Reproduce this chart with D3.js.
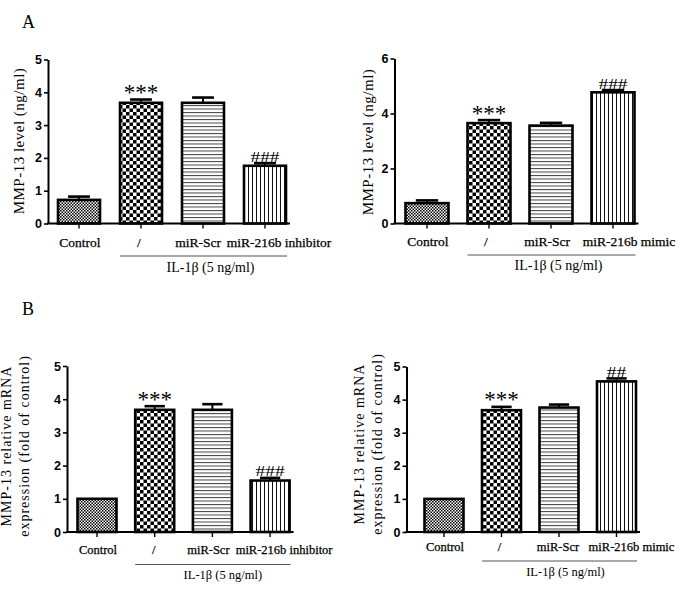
<!DOCTYPE html>
<html><head><meta charset="utf-8">
<script src="https://cdn.jsdelivr.net/npm/d3@7"></script>
<style>body{margin:0;background:#fff}</style>
</head><body>
<svg id="chart" width="685" height="593"></svg>
<script>
// ---------- data ----------
const categoriesInhibitor = ["Control", "/", "miR-Scr", "miR-216b inhibitor"];
const categoriesMimic = ["Control", "/", "miR-Scr", "miR-216b mimic"];
const groupLabel = "IL-1β (5 ng/ml)";

const proteinInhibitorMean = [0.72, 3.68, 3.68, 1.76];
const proteinInhibitorErr  = [0.10, 0.10, 0.16, 0.08];
const proteinInhibitorSig  = ["", "***", "", "###"];

const proteinMimicMean = [0.74, 3.65, 3.56, 4.77];
const proteinMimicErr  = [0.10, 0.11, 0.10, 0.08];
const proteinMimicSig  = ["", "***", "", "###"];

const mrnaInhibitorMean = [1.00, 3.68, 3.68, 1.55];
const mrnaInhibitorErr  = [0.00, 0.11, 0.17, 0.08];
const mrnaInhibitorSig  = ["", "***", "", "###"];

const mrnaMimicMean = [1.00, 3.68, 3.76, 4.55];
const mrnaMimicErr  = [0.00, 0.10, 0.09, 0.09];
const mrnaMimicSig  = ["", "***", "", "##"];

const ticksProteinInhibitor = [0, 1, 2, 3, 4, 5];
const ticksProteinMimic = [0, 2, 4, 6];
const ticksMrna = [0, 1, 2, 3, 4, 5];

const titleProtein = ["MMP-13 level (ng/ml)"];
const titleMrna = ["MMP-13 relative mRNA", "expression (fold of control)"];
const panelLetters = ["A", "B"];

// ---------- drawing ----------
const svg = d3.select("#chart");
const defs = svg.append("defs");
const fills = ["url(#pFine)", "url(#pCoarse)", "url(#pH)", "url(#pV)"];

let p = defs.append("pattern").attr("id", "pFine").attr("patternUnits", "userSpaceOnUse").attr("width", 3).attr("height", 3);
p.append("rect").attr("width", 3).attr("height", 3).attr("fill", "#fff");
p.append("rect").attr("width", 1.5).attr("height", 1.5).attr("fill", "#000");
p.append("rect").attr("x", 1.5).attr("y", 1.5).attr("width", 1.5).attr("height", 1.5).attr("fill", "#000");

p = defs.append("pattern").attr("id", "pCoarse").attr("patternUnits", "userSpaceOnUse").attr("width", 7).attr("height", 7);
p.append("rect").attr("width", 7).attr("height", 7).attr("fill", "#fff");
p.append("rect").attr("width", 3.5).attr("height", 3.5).attr("fill", "#000");
p.append("rect").attr("x", 3.5).attr("y", 3.5).attr("width", 3.5).attr("height", 3.5).attr("fill", "#000");

p = defs.append("pattern").attr("id", "pH").attr("patternUnits", "userSpaceOnUse").attr("width", 10).attr("height", 3.5);
p.append("rect").attr("width", 10).attr("height", 3.5).attr("fill", "#fff");
p.append("rect").attr("y", 0).attr("width", 10).attr("height", 1).attr("fill", "#444");

p = defs.append("pattern").attr("id", "pV").attr("patternUnits", "userSpaceOnUse").attr("width", 4).attr("height", 10);
p.append("rect").attr("width", 4).attr("height", 10).attr("fill", "#fff");
p.append("rect").attr("x", 0).attr("width", 1).attr("height", 10).attr("fill", "#111");

const panels = [
  {cats: categoriesInhibitor, mean: proteinInhibitorMean, err: proteinInhibitorErr, sig: proteinInhibitorSig,
   ticks: ticksProteinInhibitor, title: titleProtein,
   axisX: 48, y0: 223.5, yTop: 59.5, c0: 79, step: 62, bw: 42,
   titleX: 19, titleY: 141, titleSize: 15, titleLs: 0.5,
   catY: 247, catSize: 13.5, shifts: [1, -2, -5, 14],
   bracketY: 256, groupY: 271.5, groupSize: 14, groupDx: 7},
  {cats: categoriesMimic, mean: proteinMimicMean, err: proteinMimicErr, sig: proteinMimicSig,
   ticks: ticksProteinMimic, title: titleProtein,
   axisX: 394.5, y0: 223.5, yTop: 58.5, c0: 427, step: 62, bw: 43,
   titleX: 368, titleY: 142, titleSize: 15, titleLs: 0.5,
   catY: 246, catSize: 13.5, shifts: [1, -3, -4, 16],
   bracketY: 255, groupY: 270, groupSize: 14, groupDx: 7},
  {cats: categoriesInhibitor, mean: mrnaInhibitorMean, err: mrnaInhibitorErr, sig: mrnaInhibitorSig,
   ticks: ticksMrna, title: titleMrna,
   axisX: 67, y0: 532, yTop: 366, c0: 97, step: 57.7, bw: 39,
   titleX: 15, titleY: 446, titleSize: 14, titleLs: 1,
   catY: 554, catSize: 12.5, shifts: [1, -1, -4, 14],
   bracketY: 564.5, groupY: 579, groupSize: 12.5, groupDx: 10},
  {cats: categoriesMimic, mean: mrnaMimicMean, err: mrnaMimicErr, sig: mrnaMimicSig,
   ticks: ticksMrna, title: titleMrna,
   axisX: 406.5, y0: 532, yTop: 366.5, c0: 444, step: 57.5, bw: 39,
   titleX: 368, titleY: 444, titleSize: 14, titleLs: 1,
   catY: 551, catSize: 12.5, shifts: [1, -2, -1, 15],
   bracketY: 561, groupY: 576, groupSize: 12.5, groupDx: 6}
];

panels.forEach(cfg => {
  const g = svg.append("g");
  const n = cfg.cats.length;
  const pi = 1 - cfg.bw / cfg.step;
  const r0 = cfg.c0 - cfg.step / 2;
  const x = d3.scaleBand().domain(cfg.cats).range([r0, r0 + n * cfg.step])
    .paddingInner(pi).paddingOuter(pi / 2);
  const yMax = d3.max(cfg.ticks);
  const y = d3.scaleLinear().domain([0, yMax]).range([cfg.y0, cfg.yTop]);
  const data = cfg.cats.map((c, i) => ({c, v: cfg.mean[i], e: cfg.err[i], s: cfg.sig[i], i}));

  // bars
  g.selectAll("rect.bar").data(data).join("rect")
    .attr("x", d => x(d.c)).attr("y", d => y(d.v))
    .attr("width", x.bandwidth()).attr("height", d => y(0) - y(d.v))
    .attr("fill", d => fills[d.i]).attr("stroke", "#000").attr("stroke-width", 2.6);

  // error bars
  const eb = data.filter(d => d.e > 0);
  g.selectAll("line.stem").data(eb).join("line")
    .attr("x1", d => x(d.c) + x.bandwidth() / 2).attr("x2", d => x(d.c) + x.bandwidth() / 2)
    .attr("y1", d => y(d.v)).attr("y2", d => y(d.v + d.e))
    .attr("stroke", "#000").attr("stroke-width", 2);
  g.selectAll("line.cap").data(eb).join("line")
    .attr("x1", d => x(d.c) + x.bandwidth() * 0.24).attr("x2", d => x(d.c) + x.bandwidth() * 0.76)
    .attr("y1", d => y(d.v + d.e)).attr("y2", d => y(d.v + d.e))
    .attr("stroke", "#000").attr("stroke-width", 2.6);

  // significance marks
  data.filter(d => d.s).forEach(d => {
    const cx = x(d.c) + x.bandwidth() / 2;
    const top = y(d.v + d.e);
    const star = d.s.startsWith("*");
    const t = g.append("text").attr("x", cx).attr("text-anchor", "middle")
      .attr("font-family", "'Liberation Serif', 'Times New Roman', serif")
      .attr("fill", "#000").text(d.s);
    if (star) {
      t.attr("y", top + 0.5).attr("font-size", 23);
    } else {
      t.attr("y", top - 1.5).attr("font-size", 15)
        .attr("textLength", d.s.length * 9.7).attr("lengthAdjust", "spacingAndGlyphs");
    }
  });

  // y axis
  const ya = g.append("g").attr("transform", `translate(${cfg.axisX},0)`)
    .call(d3.axisLeft(y).tickValues(cfg.ticks).tickSize(4).tickSizeOuter(0).tickPadding(2).tickFormat(d3.format("d")));
  ya.select(".domain").attr("stroke", "#000").attr("stroke-width", 2);
  ya.selectAll(".tick line").attr("stroke", "#000").attr("stroke-width", 1.6);
  ya.selectAll(".tick text").attr("font-family", "'Liberation Sans', Arial, sans-serif")
    .attr("font-weight", "bold").attr("font-size", 12.5).attr("fill", "#000");

  // x axis
  const last = cfg.cats[n - 1];
  g.append("line").attr("x1", cfg.axisX - 1).attr("x2", x(last) + x.bandwidth() + 4)
    .attr("y1", cfg.y0).attr("y2", cfg.y0).attr("stroke", "#000").attr("stroke-width", 2);
  g.selectAll("line.xt").data(data).join("line")
    .attr("x1", d => x(d.c) + x.bandwidth() / 2).attr("x2", d => x(d.c) + x.bandwidth() / 2)
    .attr("y1", cfg.y0).attr("y2", cfg.y0 + 5).attr("stroke", "#000").attr("stroke-width", 1.4);

  // category labels
  g.selectAll("text.cat").data(data).join("text")
    .attr("x", d => x(d.c) + x.bandwidth() / 2 + cfg.shifts[d.i]).attr("y", cfg.catY)
    .attr("text-anchor", "middle").attr("font-family", "'Liberation Serif', 'Times New Roman', serif")
    .attr("font-size", cfg.catSize).attr("fill", "#000").attr("stroke", "#000").attr("stroke-width", 0.25)
    .text(d => d.c);

  // group bracket
  const bx1 = x(cfg.cats[1]), bx2 = x(last) + x.bandwidth() + 1;
  g.append("line").attr("x1", bx1).attr("x2", bx2).attr("y1", cfg.bracketY).attr("y2", cfg.bracketY)
    .attr("stroke", "#555").attr("stroke-width", 1);
  g.append("text").attr("x", (bx1 + bx2) / 2 + cfg.groupDx).attr("y", cfg.groupY)
    .attr("text-anchor", "middle").attr("font-family", "'Liberation Serif', 'Times New Roman', serif")
    .attr("font-size", cfg.groupSize).attr("fill", "#000").text(groupLabel);

  // y title
  const tt = g.append("text").attr("transform", `translate(${cfg.titleX},${cfg.titleY}) rotate(-90)`)
    .attr("text-anchor", "middle").attr("font-family", "'Liberation Serif', 'Times New Roman', serif")
    .attr("font-size", cfg.titleSize).attr("letter-spacing", cfg.titleLs).attr("fill", "#000");
  const nl = cfg.title.length;
  cfg.title.forEach((line, k) => {
    tt.append("tspan").attr("x", 0).attr("y", 0)
      .attr("dy", (0.35 + (k - (nl - 1) / 2) * 1.25) + "em").text(line);
  });
});

// panel letters
svg.selectAll("text.letter").data(panelLetters).join("text")
  .attr("x", 22).attr("y", (d, i) => i === 0 ? 27.5 : 315)
  .attr("font-family", "'Liberation Serif', 'Times New Roman', serif")
  .attr("font-size", 18).attr("fill", "#000").text(d => d);
</script>
</body></html>
